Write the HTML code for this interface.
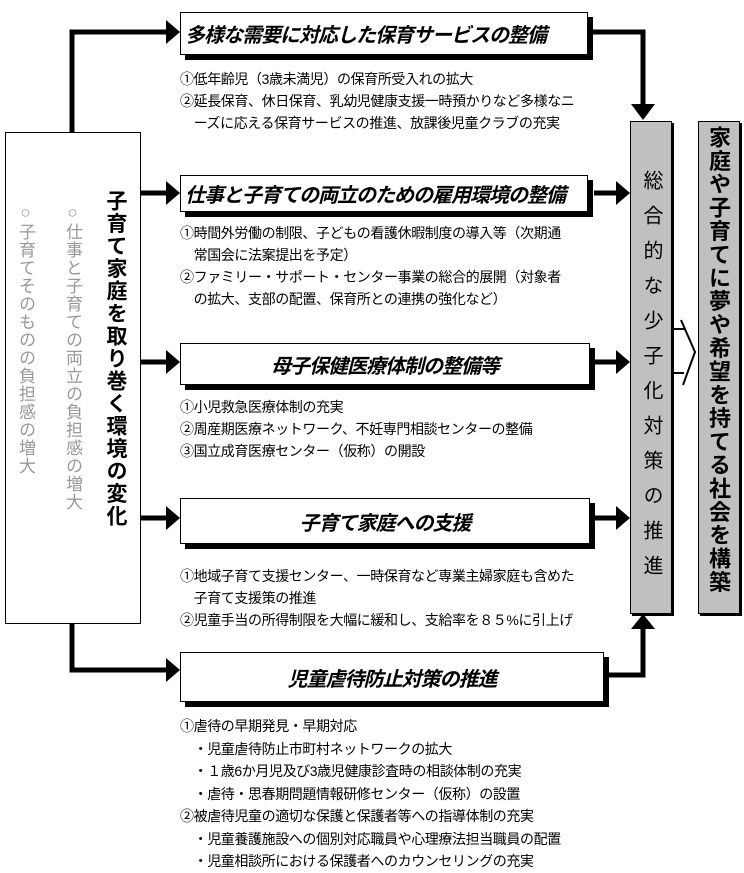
<!DOCTYPE html>
<html><head><meta charset="utf-8"><style>
body{margin:0;width:744px;height:872px;background:#fff;position:relative;overflow:hidden;font-family:"Liberation Sans","Noto Sans CJK JP",sans-serif;}
.a{position:absolute}
.box{position:absolute;border:1px solid #000;background:#fff;box-shadow:5px 5px 0 #000;display:flex;align-items:center;justify-content:center;font-weight:bold;font-style:italic;font-size:20px;letter-spacing:-1px}
.t{position:absolute;font-size:14px;line-height:22px;white-space:nowrap;letter-spacing:-0.4px;color:#000}
.v{position:absolute;writing-mode:vertical-rl;white-space:nowrap}
</style></head><body>
<svg class="a" style="left:0;top:0" width="744" height="872">
<g fill="none" stroke="#000" stroke-width="5">
<polyline points="72,133 72,32 168,32"/>
<polyline points="72,623 72,670 168,670"/>
<line x1="140" y1="193" x2="168" y2="193"/>
<line x1="140" y1="362" x2="168" y2="362"/>
<line x1="140" y1="518" x2="168" y2="518"/>
<polyline points="590,32 643,32 643,105"/>
<polyline points="604,675 643,675 643,628"/>
<line x1="594" y1="193" x2="618" y2="193"/>
<line x1="594" y1="362" x2="618" y2="362"/>
<line x1="594" y1="518" x2="618" y2="518"/>
</g>
<g fill="#000">
<polygon points="166,20 180,32 166,44"/>
<polygon points="166,181 180,193 166,205"/>
<polygon points="166,350 180,362 166,374"/>
<polygon points="166,506 180,518 166,530"/>
<polygon points="166,658 180,670 166,682"/>
<polygon points="616,181 630,193 616,205"/>
<polygon points="616,350 630,362 616,374"/>
<polygon points="616,506 630,518 616,530"/>
<polygon points="631,104 655,104 643,120"/>
<polygon points="631,629 655,629 643,614"/>
</g>
<g fill="none" stroke="#000" stroke-width="2">
<line x1="671" y1="329" x2="684" y2="329"/>
<line x1="671" y1="373" x2="684" y2="373"/>
<polyline points="681,320 695,352 683,385"/>
</g>
</svg>
<div class="a" style="left:5px;top:132px;width:134px;height:490px;border:1px solid #000;background:#fff"></div>
<div class="v" style="left:103px;top:190px;font-size:21px;font-weight:bold;letter-spacing:1.5px;line-height:24px">子育て家庭を取り巻く環境の変化</div>
<div class="v" style="left:62px;top:203px;font-size:17px;color:#999;letter-spacing:1px;line-height:20px">○仕事と子育ての両立の負担感の増大</div>
<div class="v" style="left:15px;top:203px;font-size:17px;color:#999;letter-spacing:1px;line-height:20px">○子育てそのものの負担感の増大</div>
<div class="a" style="left:630px;top:121px;width:40px;height:491px;background:#c0c0c0;border:1px solid #000;box-shadow:2px 2px 0 #000"></div>
<div class="v" style="left:638px;top:170px;font-size:20px;letter-spacing:15px;line-height:26px">総合的な少子化対策の推進</div>
<div class="a" style="left:698px;top:121px;width:40px;height:491px;background:#c0c0c0;border:1px solid #000;box-shadow:2px 2px 0 #000"></div>
<div class="v" style="left:705px;top:126px;font-size:22px;font-weight:bold;letter-spacing:1.4px;line-height:26px">家庭や子育てに夢や希望を持てる社会を構築</div>
<div class="box" style="left:180px;top:12px;width:408px;height:43px;justify-content:flex-start;padding-left:4px;box-sizing:border-box">多様な需要に対応した保育サービスの整備</div>
<div class="box" style="left:180px;top:175px;width:408px;height:37px;justify-content:flex-start;padding-left:4px;box-sizing:border-box">仕事と子育ての両立のための雇用環境の整備</div>
<div class="box" style="left:180px;top:343px;width:408px;height:40px">母子保健医療体制の整備等</div>
<div class="box" style="left:180px;top:498px;width:408px;height:44px">子育て家庭への支援</div>
<div class="box" style="left:180px;top:652px;width:422px;height:48px">児童虐待防止対策の推進</div>
<div class="t" style="left:180px;top:68px">①低年齢児（3歳未満児）の保育所受入れの拡大<br>②延長保育、休日保育、乳幼児健康支援一時預かりなど多様なニ<br>　ーズに応える保育サービスの推進、放課後児童クラブの充実</div>
<div class="t" style="left:180px;top:222px">①時間外労働の制限、子どもの看護休暇制度の導入等（次期通<br>　常国会に法案提出を予定）<br>②ファミリー・サポート・センター事業の総合的展開（対象者<br>　の拡大、支部の配置、保育所との連携の強化など）</div>
<div class="t" style="left:180px;top:396px">①小児救急医療体制の充実<br>②周産期医療ネットワーク、不妊専門相談センターの整備<br>③国立成育医療センター（仮称）の開設</div>
<div class="t" style="left:180px;top:565px">①地域子育て支援センター、一時保育など専業主婦家庭も含めた<br>　子育て支援策の推進<br>②児童手当の所得制限を大幅に緩和し、支給率を８５%に引上げ</div>
<div class="t" style="left:180px;top:715px;line-height:22.5px">①虐待の早期発見・早期対応<br>　・児童虐待防止市町村ネットワークの拡大<br>　・１歳6か月児及び3歳児健康診査時の相談体制の充実<br>　・虐待・思春期問題情報研修センター（仮称）の設置<br>②被虐待児童の適切な保護と保護者等への指導体制の充実<br>　・児童養護施設への個別対応職員や心理療法担当職員の配置<br>　・児童相談所における保護者へのカウンセリングの充実</div>
</body></html>
